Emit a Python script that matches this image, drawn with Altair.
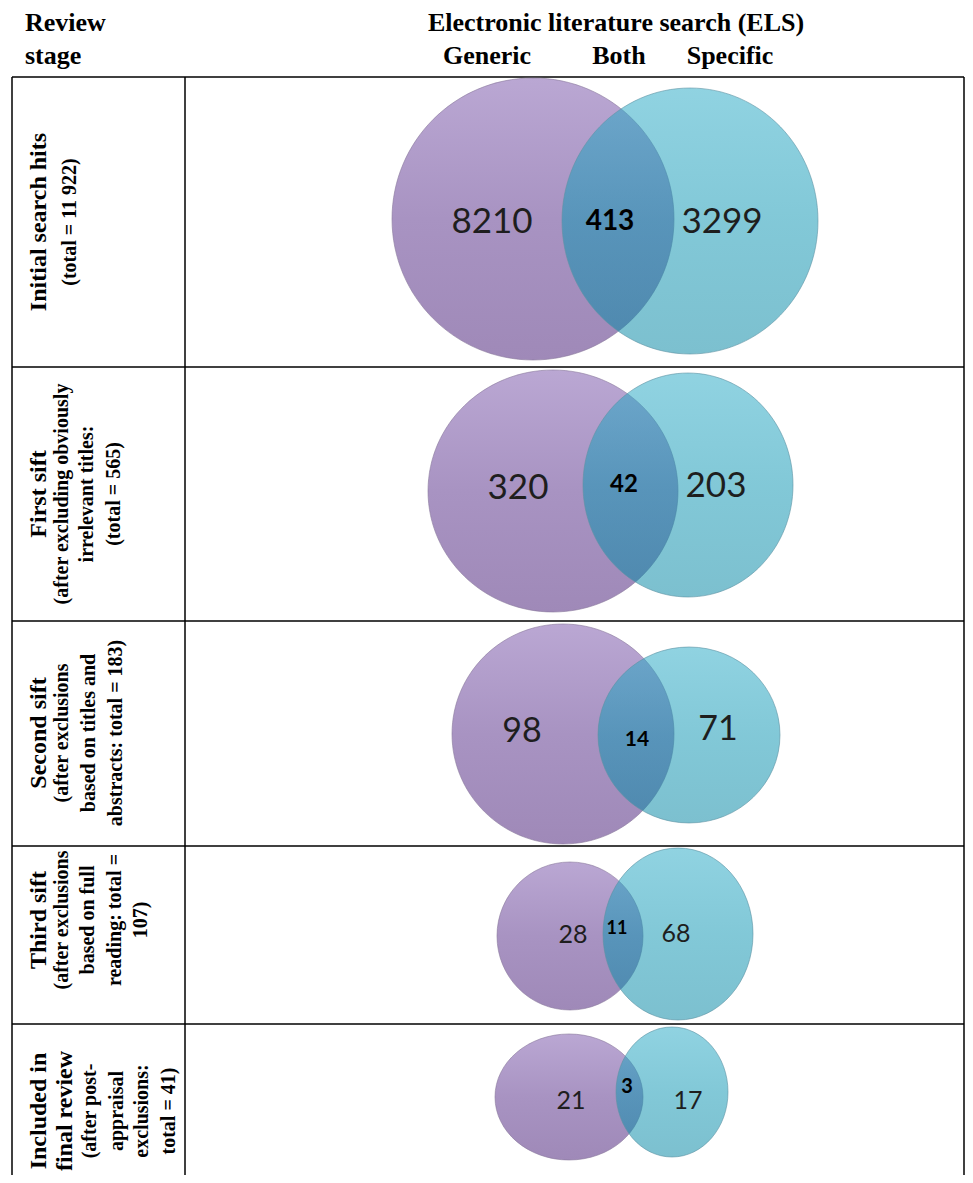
import altair as alt
import pandas as pd

# ---------------- data ----------------
header_stage = ["Review", "stage"]
header_main = "Electronic literature search (ELS)"
header_sets = ["Generic", "Both", "Specific"]

stage_titles = [
    ["Initial search hits"],
    ["First sift"],
    ["Second sift"],
    ["Third sift"],
    ["Included in", "final review"],
]
stage_notes = [
    ["(total = 11 922)"],
    ["(after excluding obviously", "irrelevant titles:", "(total = 565)"],
    ["(after exclusions", "based on titles and", "abstracts: total = 183)"],
    ["(after exclusions", "based on full", "reading: total =", "107)"],
    ["(after post-", "appraisal", "exclusions:", "total = 41)"],
]
generic_only = [8210, 320, 98, 28, 21]
both_sets = [413, 42, 14, 11, 3]
specific_only = [3299, 203, 71, 68, 17]

# ---------------- layout (page pixels) ----------------
X0, X1 = 8, 965
Y0, Y1 = 8, 1175
row_lines = [77, 367, 621, 846, 1024]
col_lines = [12, 185, 964]
label_y = [222, 494, 733, 920, 1111]
label_x = [[39, 70], [39, 62, 87, 114], [39, 62, 89, 116],
           [39, 62, 88, 115, 141], [39, 65, 90, 117, 142, 169]]
purple_geo = [(533, 219, 141, 141), (553, 491, 125, 121), (563, 734, 111, 110),
              (570, 936, 73, 74), (569, 1097, 74, 63)]
cyan_geo = [(690, 221, 128, 133), (688, 485, 105, 112), (689, 735, 91, 88),
            (678, 934, 75, 86), (672, 1092, 56, 65)]
gen_pos = [(492, 222, 35), (518, 488, 35), (522, 732, 34), (573, 935, 25), (571, 1101, 25)]
both_pos = [(610, 222, 28), (624, 485, 24), (637, 740, 21), (617, 929, 18), (627, 1087, 20)]
spec_pos = [(722, 222, 35), (716, 486, 35), (718, 730, 34), (676, 934, 25), (688, 1101, 25)]
header_pos = [(25, 31), (25, 64)]
main_pos = (616, 31)
sets_pos = [(487, 64), (619, 64), (730, 64)]

xs = alt.Scale(domain=[X0, X1], nice=False, zero=False)
ys = alt.Scale(domain=[Y0, Y1], nice=False, zero=False, reverse=True)


def ellipse_path(rx, ry):
    m = max(rx, ry)
    a, b = rx / m, ry / m
    return (f"M{-a:.4f},0A{a:.4f},{b:.4f} 0 1,1 {a:.4f},0"
            f"A{a:.4f},{b:.4f} 0 1,1 {-a:.4f},0Z"), (2 * m) ** 2


# table rules
lines = []
for y in row_lines:
    lines.append(dict(x=col_lines[0], x2=col_lines[-1], y=y, y2=y))
for x in col_lines:
    lines.append(dict(x=x, x2=x, y=row_lines[0], y2=Y1))
rules = alt.Chart(pd.DataFrame(lines)).mark_rule(color="black", strokeWidth=1.5).encode(
    x=alt.X("x:Q", scale=xs, axis=None), x2="x2:Q",
    y=alt.Y("y:Q", scale=ys, axis=None), y2="y2:Q")


def circle_df(geo):
    rows = []
    for cx, cy, rx, ry in geo:
        p, s = ellipse_path(rx, ry)
        rows.append(dict(x=cx, y=cy, shape=p, size=s))
    return pd.DataFrame(rows)


purple_grad = alt.Gradient(gradient="linear", x1=0, y1=0, x2=0, y2=1, stops=[
    alt.GradientStop(color="#baa7d3", offset=0),
    alt.GradientStop(color="#a893c2", offset=0.5),
    alt.GradientStop(color="#9f89b8", offset=1)])
cyan_grad = alt.Gradient(gradient="linear", x1=0, y1=0, x2=0, y2=1, stops=[
    alt.GradientStop(color="#2aaac6", offset=0),
    alt.GradientStop(color="#0f96b3", offset=0.5),
    alt.GradientStop(color="#0486a3", offset=1)])

purple = alt.Chart(circle_df(purple_geo)).mark_point(
    filled=True, fill=purple_grad, fillOpacity=1, stroke="#8a7a9c", strokeOpacity=0.6,
    strokeWidth=1).encode(
    x=alt.X("x:Q", scale=xs, axis=None), y=alt.Y("y:Q", scale=ys, axis=None),
    shape=alt.Shape("shape:N", scale=None), size=alt.Size("size:Q", scale=None))
cyan = alt.Chart(circle_df(cyan_geo)).mark_point(
    filled=True, fill=cyan_grad, fillOpacity=0.52, stroke="#5e93a3", strokeOpacity=0.6,
    strokeWidth=1).encode(
    x=alt.X("x:Q", scale=xs, axis=None), y=alt.Y("y:Q", scale=ys, axis=None),
    shape=alt.Shape("shape:N", scale=None), size=alt.Size("size:Q", scale=None))

# numbers
reg = []
for vals, pos in ((generic_only, gen_pos), (specific_only, spec_pos)):
    for v, (x, y, s) in zip(vals, pos):
        reg.append(dict(x=x, y=y, size=s, text=str(v)))
bold = [dict(x=x, y=y, size=s, text=str(v)) for v, (x, y, s) in zip(both_sets, both_pos)]

num_reg = alt.Chart(pd.DataFrame(reg)).mark_text(
    font="Lato", color="#1e1e1e", baseline="middle", align="center").encode(
    x=alt.X("x:Q", scale=xs, axis=None), y=alt.Y("y:Q", scale=ys, axis=None),
    size=alt.Size("size:Q", scale=None), text="text:N")
num_bold = alt.Chart(pd.DataFrame(bold)).mark_text(
    font="Lato", fontWeight="bold", color="#000000", baseline="middle", align="center").encode(
    x=alt.X("x:Q", scale=xs, axis=None), y=alt.Y("y:Q", scale=ys, axis=None),
    size=alt.Size("size:Q", scale=None), text="text:N")

# headers
hdr_l = [dict(x=x, y=y, text=t) for t, (x, y) in zip(header_stage, header_pos)]
hdr_c = [dict(x=main_pos[0], y=main_pos[1], text=header_main)]
for t, (x, y) in zip(header_sets, sets_pos):
    hdr_c.append(dict(x=x, y=y, text=t))
hdr_left = alt.Chart(pd.DataFrame(hdr_l)).mark_text(
    font="Liberation Serif", fontWeight="bold", fontSize=26, align="left",
    baseline="alphabetic", color="black").encode(
    x=alt.X("x:Q", scale=xs, axis=None), y=alt.Y("y:Q", scale=ys, axis=None), text="text:N")
hdr_center = alt.Chart(pd.DataFrame(hdr_c)).mark_text(
    font="Liberation Serif", fontWeight="bold", fontSize=26, align="center",
    baseline="alphabetic", color="black").encode(
    x=alt.X("x:Q", scale=xs, axis=None), y=alt.Y("y:Q", scale=ys, axis=None), text="text:N")

# rotated stage labels
lab = []
for i in range(5):
    texts = [(t, 24) for t in stage_titles[i]] + [(t, 20) for t in stage_notes[i]]
    for (t, s), x in zip(texts, label_x[i]):
        lab.append(dict(x=x, y=label_y[i], text=t, size=s))
labels = alt.Chart(pd.DataFrame(lab)).mark_text(
    font="Liberation Serif", fontWeight="bold", angle=270, align="center",
    baseline="middle", color="black").encode(
    x=alt.X("x:Q", scale=xs, axis=None), y=alt.Y("y:Q", scale=ys, axis=None),
    size=alt.Size("size:Q", scale=None), text="text:N")

chart = alt.layer(rules, purple, cyan, num_reg, num_bold, hdr_left, hdr_center, labels).properties(
    width=X1 - X0, height=Y1 - Y0, padding=0, background="white"
).configure_view(stroke=None)

chart.save("out.html", embed_options={"renderer": "svg", "actions": False})
